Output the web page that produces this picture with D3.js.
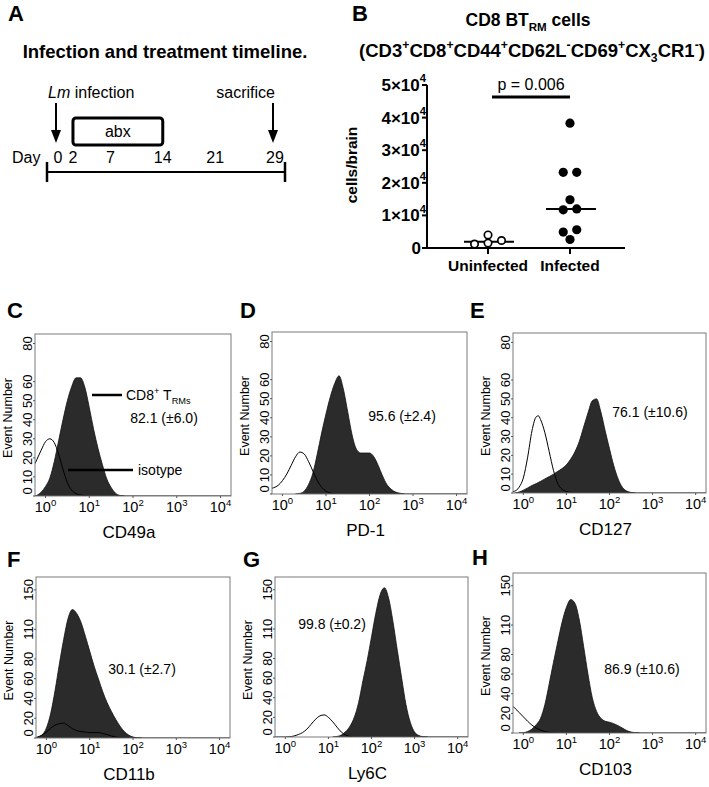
<!DOCTYPE html>
<html>
<head>
<meta charset="utf-8">
<script src="https://cdn.jsdelivr.net/npm/d3@7"></script>
<style>
  body { margin: 0; background: #fff; }
  svg text { font-family: "Liberation Sans", Arial, Helvetica, sans-serif; fill: #000; }
</style>
</head>
<body>
<svg id="fig" width="709" height="787"></svg>
<script>
/*Panel A data*/
var timelineDays = [0, 2, 7, 14, 21, 29];
var abxDays = [2, 14];
var infectionDay = 0, sacrificeDay = 29;

/*Panel B data*/
var groups = ['Uninfected', 'Infected'];
var uninfected = [1200, 2300, 4000, 1500];
var infected = [38300, 23200, 23200, 14800, 12000, 11700, 5600, 4900, 2600];
var countTicks = [0, 10000, 20000, 30000, 40000, 50000];
var pLabel = 'p = 0.006';

/*Histograms: [log10 fluorescence, event number]*/
var cd49aStain = [[-0.24,0],[-0.2,0.3],[-0.1,2],[0,5],[0.1,9.5],[0.2,18],[0.3,29],[0.4,40],[0.5,50],[0.6,57.5],[0.7,62],[0.8,62],[0.9,57],[1.0,46.5],[1.1,35],[1.2,25],[1.3,16.5],[1.4,9],[1.5,4.5],[1.6,1.5],[1.7,0.3],[1.8,0]];
var cd49aIso = [[-0.24,17],[-0.2,19],[-0.1,24],[0,28.5],[0.1,30],[0.2,28],[0.3,22],[0.4,14],[0.5,7],[0.6,3],[0.7,1.2],[0.8,0.5],[0.9,0.2],[1.0,0],[4.24,0]];
var pd1Stain = [[0.3,0],[0.4,0.3],[0.5,1.5],[0.6,5],[0.7,11],[0.8,21],[0.9,32],[1.0,42],[1.1,51],[1.2,58],[1.3,62],[1.4,55],[1.5,43],[1.6,31],[1.7,23.5],[1.8,21.5],[1.9,21.5],[2.0,21.5],[2.1,19.5],[2.2,15],[2.3,9.5],[2.4,5],[2.5,2.5],[2.6,1],[2.7,0.4],[2.8,0]];
var pd1Iso = [[-0.24,3],[-0.2,3.3],[-0.1,4.5],[0,7],[0.1,10.5],[0.2,15],[0.3,19.5],[0.4,22],[0.5,21],[0.6,17],[0.7,12],[0.8,7],[0.9,3.5],[1.0,1.5],[1.1,0.5],[1.2,0],[4.24,0]];
var cd127Stain = [[-0.2,0],[-0.1,0.5],[0,1.5],[0.1,2.7],[0.2,4],[0.3,5],[0.4,6.2],[0.5,7.5],[0.6,8.7],[0.7,10],[0.8,11.5],[0.9,13],[1.0,15],[1.1,18],[1.2,22],[1.3,27.5],[1.4,35],[1.5,42.5],[1.6,49],[1.7,50],[1.8,43],[1.9,33],[2.0,23.5],[2.1,14.5],[2.2,7.5],[2.3,3],[2.4,1],[2.5,0.3],[2.6,0]];
var cd127Iso = [[-0.24,0.7],[-0.2,1],[-0.1,3],[0,8],[0.1,19],[0.2,33],[0.3,40.5],[0.35,41],[0.4,39],[0.5,32],[0.6,22],[0.7,12],[0.8,5],[0.9,2],[1.0,0.8],[1.1,0.3],[1.2,0],[4.24,0]];
var cd11bStain = [[-0.24,0],[-0.2,0.5],[-0.1,3],[0,10],[0.1,25],[0.2,48],[0.3,75],[0.4,100],[0.5,121],[0.6,130],[0.7,126],[0.8,117],[0.9,103],[1.0,88],[1.1,73],[1.2,60],[1.3,47],[1.4,36],[1.5,27],[1.6,19],[1.7,12],[1.8,6.5],[1.9,3],[2.0,1],[2.1,0.3],[2.2,0]];
var cd11bIso = [[-0.24,0.5],[-0.1,3],[0,6],[0.1,10],[0.2,13],[0.3,14.5],[0.4,15],[0.5,12.5],[0.6,9.5],[0.7,7.5],[0.8,6.5],[0.9,6],[1.0,5.5],[1.1,5.5],[1.2,5.5],[1.3,4.5],[1.4,3.5],[1.5,2],[1.6,1],[1.7,0.3],[1.8,0],[4.24,0]];
var ly6cStain = [[1.1,0],[1.2,0.5],[1.3,2],[1.4,5.5],[1.5,11],[1.6,20],[1.7,35],[1.8,57],[1.9,78],[2.0,102],[2.1,126],[2.2,145],[2.3,152],[2.4,141],[2.5,117],[2.6,88],[2.7,60],[2.8,33],[2.9,15],[3.0,5],[3.1,1.5],[3.2,0.3],[3.3,0]];
var ly6cIso = [[-0.24,0],[0,0],[0.1,0.3],[0.2,1],[0.3,2.5],[0.4,4.5],[0.5,8],[0.6,13],[0.7,18],[0.8,21.5],[0.9,22.5],[1.0,20],[1.1,15.5],[1.2,10],[1.3,5],[1.4,2],[1.5,0.5],[1.6,0],[4.24,0]];
var cd103Stain = [[-0.1,0],[0,0.3],[0.1,1.5],[0.2,4],[0.3,8.5],[0.4,15],[0.5,29],[0.6,50],[0.7,72],[0.8,93],[0.9,113],[1.0,128],[1.1,136],[1.2,132],[1.3,115],[1.4,88],[1.5,60],[1.6,36],[1.7,22],[1.8,15],[1.9,12],[2.0,11],[2.1,9.5],[2.2,7.5],[2.3,5],[2.4,2.5],[2.5,1],[2.6,0.3],[2.7,0]];
var cd103Iso = [[-0.24,27],[-0.2,25.5],[-0.1,21],[0,16.5],[0.1,12],[0.2,8],[0.3,5],[0.4,3],[0.5,1.5],[0.6,0.7],[0.7,0.3],[0.8,0],[4.24,0]];

var ticks80 = [0, 10, 20, 30, 40, 50, 60, 80];
var ticks150 = [0, 20, 40, 60, 80, 110, 150];
var decades = [1, 10, 100, 1000, 10000];

var svg = d3.select('#fig');

/*text with sub / superscripts*/
function rich(t, parts, size, supShift) {
  var shift = 0, up = supShift || 0.42;
  parts.forEach(function(p) {
    var target = p[1] === 'sup' ? -up * size : (p[1] === 'sub' ? 0.28 * size : 0);
    var s = t.append('tspan').text(p[0]).attr('dy', target - shift);
    if (p[1]) s.attr('font-size', size * 0.66);
    shift = target;
  });
  return t;
}

function letter(x, y, s) {
  svg.append('text').attr('x', x).attr('y', y)
    .attr('font-size', 22).attr('font-weight', 'bold').text(s);
}

/*Panel A - timeline*/
letter(8, 21, 'A');
var a = svg.append('g');
a.append('text').attr('x', 165).attr('y', 58).attr('text-anchor', 'middle')
  .attr('font-size', 18.5).attr('font-weight', 'bold').text('Infection and treatment timeline.');

var day = d3.scaleLinear().domain([0, 29]).range([58, 275]);
var lineY = 172;

a.append('line').attr('x1', day(0) - 11).attr('x2', day(29) + 10)
  .attr('y1', lineY).attr('y2', lineY).attr('stroke', '#000').attr('stroke-width', 2);
[day(0) - 11, day(29) + 10].forEach(function(x) {
  a.append('line').attr('x1', x).attr('x2', x).attr('y1', lineY - 10).attr('y2', lineY + 10)
    .attr('stroke', '#000').attr('stroke-width', 2.5);
});
a.selectAll('.dayl').data(timelineDays).enter().append('text')
  .attr('x', function(d) { return day(d); }).attr('y', 163)
  .attr('text-anchor', 'middle').attr('font-size', 16).text(function(d) { return d; });
a.append('text').attr('x', 12).attr('y', 163).attr('font-size', 16).text('Day');

a.append('rect').attr('x', day(abxDays[0])).attr('y', 118)
  .attr('width', day(abxDays[1]) - day(abxDays[0])).attr('height', 27).attr('rx', 3)
  .attr('fill', 'none').attr('stroke', '#000').attr('stroke-width', 3);
a.append('text').attr('x', (day(abxDays[0]) + day(abxDays[1])) / 2).attr('y', 137)
  .attr('text-anchor', 'middle').attr('font-size', 16).text('abx');

[infectionDay, sacrificeDay].forEach(function(d) {
  var x = day(d) - 2;
  a.append('line').attr('x1', x).attr('x2', x).attr('y1', 103).attr('y2', 131)
    .attr('stroke', '#000').attr('stroke-width', 2);
  a.append('path').attr('d', 'M' + (x - 5) + ',130L' + (x + 5) + ',130L' + x + ',143Z').attr('fill', '#000');
});
var lm = a.append('text').attr('x', day(infectionDay) - 10).attr('y', 98).attr('font-size', 16);
lm.append('tspan').attr('font-style', 'italic').text('Lm');
lm.append('tspan').text(' infection');
a.append('text').attr('x', day(sacrificeDay)).attr('y', 98).attr('text-anchor', 'end')
  .attr('font-size', 16).text('sacrifice');

/*Panel B - dot plot*/
letter(352, 21, 'B');
var b = svg.append('g');
rich(b.append('text').attr('x', 528).attr('y', 26).attr('text-anchor', 'middle')
  .attr('font-size', 17.5).attr('font-weight', 'bold'),
  [['CD8 BT', ''], ['RM', 'sub'], [' cells', '']], 17.5);
rich(b.append('text').attr('x', 532).attr('y', 57).attr('text-anchor', 'middle')
  .attr('font-size', 18.5).attr('font-weight', 'bold'),
  [['(CD3', ''], ['+', 'sup'], ['CD8', ''], ['+', 'sup'], ['CD44', ''], ['+', 'sup'], ['CD62L', ''], ['-', 'sup'],
   ['CD69', ''], ['+', 'sup'], ['CX', ''], ['3', 'sub'], ['CR1', ''], ['-', 'sup'], [')', '']], 18.5);

var by = d3.scaleLinear().domain([0, 50000]).range([248, 85]);
var bx = d3.scalePoint().domain(groups).range([429, 629]).padding(0.72);

b.append('line').attr('x1', 427).attr('x2', 427).attr('y1', by(0)).attr('y2', by(50000))
  .attr('stroke', '#000').attr('stroke-width', 2);
b.append('line').attr('x1', 426).attr('x2', 625).attr('y1', by(0)).attr('y2', by(0))
  .attr('stroke', '#000').attr('stroke-width', 2);
countTicks.forEach(function(v) {
  b.append('line').attr('x1', 422).attr('x2', 427).attr('y1', by(v)).attr('y2', by(v))
    .attr('stroke', '#000').attr('stroke-width', 2);
  var t = b.append('text').attr('x', v === 0 ? 421 : 426).attr('y', by(v) + 6)
    .attr('text-anchor', 'end').attr('font-size', 17).attr('font-weight', 'bold');
  if (v === 0) t.text('0');
  else rich(t, [[(v / 10000) + '×10', ''], ['4', 'sup']], 17, 0.52);
});
groups.forEach(function(g) {
  b.append('line').attr('x1', bx(g)).attr('x2', bx(g)).attr('y1', by(0)).attr('y2', by(0) + 6)
    .attr('stroke', '#000').attr('stroke-width', 2);
  b.append('text').attr('x', bx(g)).attr('y', 271).attr('text-anchor', 'middle')
    .attr('font-size', 15.5).attr('font-weight', 'bold').text(g);
});
b.append('text').attr('transform', 'translate(357,165) rotate(-90)').attr('text-anchor', 'middle')
  .attr('font-size', 15.5).attr('font-weight', 'bold').text('cells/brain');

function spread(values) {
  var sorted = values.slice().sort(d3.ascending), out = [], bin = [];
  function flush() {
    bin.forEach(function(v, i) { out.push({v: v, off: i - (bin.length - 1) / 2}); });
    bin = [];
  }
  sorted.forEach(function(v) {
    if (bin.length && by(bin[0]) - by(v) > 5) flush();
    bin.push(v);
  });
  flush();
  return out;
}
[[groups[0], uninfected], [groups[1], infected]].forEach(function(gv, gi) {
  var cx = bx(gv[0]), m = d3.median(gv[1]);
  b.append('line').attr('x1', cx - 24).attr('x2', cx + 26).attr('y1', by(m)).attr('y2', by(m))
    .attr('stroke', '#000').attr('stroke-width', 2);
  b.selectAll('.pt' + gi).data(spread(gv[1])).enter().append('circle')
    .attr('cx', function(d) { return cx + d.off * 13.5; })
    .attr('cy', function(d) { return by(d.v); })
    .attr('r', gi === 0 ? 3.7 : 4.6)
    .attr('fill', gi === 0 ? '#fff' : '#000')
    .attr('stroke', '#000').attr('stroke-width', gi === 0 ? 1.7 : 0);
});
b.append('line').attr('x1', bx(groups[0]) + 4).attr('x2', bx(groups[1]))
  .attr('y1', 97).attr('y2', 97).attr('stroke', '#000').attr('stroke-width', 3);
b.append('text').attr('x', (bx(groups[0]) + 4 + bx(groups[1])) / 2).attr('y', 90)
  .attr('text-anchor', 'middle').attr('font-size', 16).text(pLabel);

/*Histograms*/
var panels = [
  {key: 'C', marker: 'CD49a', stain: cd49aStain, iso: cd49aIso, pct: '82.1 (±6.0)', yMax: 85, ticks: ticks80,
   box: [35, 334, 231, 496], pctAt: [164, 423], letterAt: [7, 318]},
  {key: 'D', marker: 'PD-1', stain: pd1Stain, iso: pd1Iso, pct: '95.6 (±2.4)', yMax: 85, ticks: ticks80,
   box: [272, 332, 467, 494], pctAt: [402, 421], letterAt: [240, 318]},
  {key: 'E', marker: 'CD127', stain: cd127Stain, iso: cd127Iso, pct: '76.1 (±10.6)', yMax: 85, ticks: ticks80,
   box: [513, 333, 706, 493], pctAt: [650, 417], letterAt: [470, 318]},
  {key: 'F', marker: 'CD11b', stain: cd11bStain, iso: cd11bIso, pct: '30.1 (±2.7)', yMax: 163, ticks: ticks150,
   box: [36, 577, 230, 738], pctAt: [142, 674], letterAt: [7, 567]},
  {key: 'G', marker: 'Ly6C', stain: ly6cStain, iso: ly6cIso, pct: '99.8 (±0.2)', yMax: 163, ticks: ticks150,
   box: [275, 577, 468, 737], pctAt: [332, 629], letterAt: [243, 567]},
  {key: 'H', marker: 'CD103', stain: cd103Stain, iso: cd103Iso, pct: '86.9 (±10.6)', yMax: 163, ticks: ticks150,
   box: [513, 573, 706, 733], pctAt: [642, 674], letterAt: [472, 565]}
];

panels.forEach(function(p, i) {
  var L = p.box[0], T = p.box[1], R = p.box[2], B = p.box[3];
  var x = d3.scaleLog().domain([Math.pow(10, -0.24), Math.pow(10, 4.24)]).range([L, R]);
  var y = d3.scaleLinear().domain([0, p.yMax]).range([B, T]);
  var g = svg.append('g');
  letter(p.letterAt[0], p.letterAt[1], p.key);

  g.append('clipPath').attr('id', 'clip' + i).append('rect')
    .attr('x', L).attr('y', T).attr('width', R - L).attr('height', B - T);
  var plot = g.append('g').attr('clip-path', 'url(#clip' + i + ')');

  var area = d3.area().curve(d3.curveMonotoneX)
    .x(function(d) { return x(Math.pow(10, d[0])); })
    .y0(y(0)).y1(function(d) { return y(d[1]); });
  var line = d3.line().curve(d3.curveMonotoneX)
    .x(function(d) { return x(Math.pow(10, d[0])); })
    .y(function(d) { return y(d[1]); });

  plot.append('path').datum(p.stain).attr('d', area)
    .attr('fill', '#2b2b2b').attr('stroke', '#111').attr('stroke-width', 0.8);
  plot.append('path').datum(p.iso).attr('d', line)
    .attr('fill', 'none').attr('stroke', '#000').attr('stroke-width', 1);

  g.append('rect').attr('x', L).attr('y', T).attr('width', R - L).attr('height', B - T)
    .attr('fill', 'none').attr('stroke', '#7a7a7a').attr('stroke-width', 1);

  p.ticks.forEach(function(v) {
    g.append('line').attr('x1', L - 2).attr('x2', L).attr('y1', y(v)).attr('y2', y(v))
      .attr('stroke', '#555').attr('stroke-width', 1);
    g.append('text').attr('transform', 'translate(' + (L - 3) + ',' + (v === 0 ? y(v) - 5 : y(v)) + ') rotate(-90)')
      .attr('text-anchor', 'middle').attr('font-size', 13).text(v);
  });
  decades.forEach(function(v) {
    g.append('line').attr('x1', x(v)).attr('x2', x(v)).attr('y1', B).attr('y2', B + 2)
      .attr('stroke', '#555').attr('stroke-width', 1);
    rich(g.append('text').attr('x', x(v)).attr('y', B + 16).attr('text-anchor', 'middle').attr('font-size', 14.5),
      [['10', ''], [String(Math.round(Math.log10(v))), 'sup']], 14.5);
  });
  g.append('text').attr('x', (L + R) / 2 - 4).attr('y', B + 42).attr('text-anchor', 'middle')
    .attr('font-size', 17).text(p.marker);
  g.append('text').attr('transform', 'translate(' + (L - 23) + ',' + ((T + B) / 2 + 3) + ') rotate(-90)')
    .attr('text-anchor', 'middle').attr('font-size', 12.5).text('Event Number');
  g.append('text').attr('x', p.pctAt[0]).attr('y', p.pctAt[1]).attr('text-anchor', 'middle')
    .attr('font-size', 14).text(p.pct);

  if (p.key === 'C') {
    g.append('line').attr('x1', 92).attr('x2', 122).attr('y1', 395).attr('y2', 395)
      .attr('stroke', '#000').attr('stroke-width', 2.5);
    rich(g.append('text').attr('x', 126).attr('y', 400).attr('font-size', 14),
      [['CD8', ''], ['+', 'sup'], [' T', ''], ['RMs', 'sub']], 14);
    g.append('line').attr('x1', 68).attr('x2', 133).attr('y1', 470).attr('y2', 470)
      .attr('stroke', '#000').attr('stroke-width', 2.5);
    g.append('text').attr('x', 138).attr('y', 475).attr('font-size', 14).text('isotype');
  }
});
</script>
</body>
</html>
